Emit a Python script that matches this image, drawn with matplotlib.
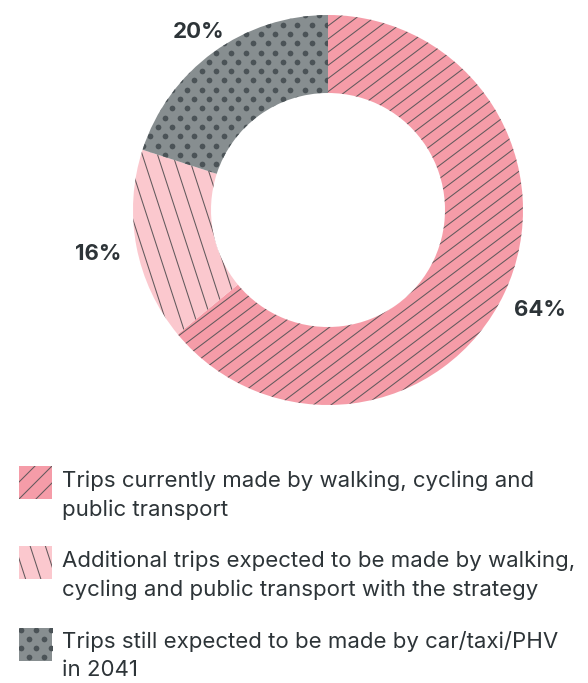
import matplotlib
matplotlib.use('Agg')
import matplotlib.pyplot as plt
import numpy as np
from matplotlib.collections import LineCollection
from matplotlib.patches import Rectangle

# share of trips in 2041
shares = [64, 16, 20]
share_labels = ['64%', '16%', '20%']
legend_lines = [
    ['Trips currently made by walking, cycling and', 'public transport'],
    ['Additional trips expected to be made by walking,', 'cycling and public transport with the strategy'],
    ['Trips still expected to be made by car/taxi/PHV', 'in 2041'],
]

colors = ['#f59ca8', '#fbc8ce', '#878e90']
line_col = '#62595c'
dot_col = '#4b5357'
text_col = '#2d3438'

plt.rcParams['font.family'] = ['Inter', 'DejaVu Sans']

W, H = 588, 683
fig = plt.figure(figsize=(W / 100, H / 100), dpi=100)

# donut axes: centre (328, 210) px, outer radius 195 px
cx, cy, R = 328, 210, 195
ax = fig.add_axes([(cx - R) / W, (H - cy - R) / H, 2 * R / W, 2 * R / H])
wedges, _ = ax.pie(shares, startangle=90, counterclock=False, colors=colors,
                   radius=1, wedgeprops=dict(width=0.4, linewidth=0))
ax.set_xlim(-1, 1)
ax.set_ylim(-1, 1)
ax.axis('off')


def hatch_lines(axis, patch, angle, spacing, x0, x1, y0, y1, lw=0.75):
    a = np.deg2rad(angle)
    d = np.array([np.cos(a), np.sin(a)])
    n = np.array([-np.sin(a), np.cos(a)])
    c = np.array([(x0 + x1) / 2, (y0 + y1) / 2])
    L = np.hypot(x1 - x0, y1 - y0)
    k = int(L / spacing) + 2
    segs = [[c + n * i * spacing - d * L, c + n * i * spacing + d * L] for i in range(-k, k + 1)]
    lc = LineCollection(segs, colors=line_col, linewidths=lw)
    axis.add_collection(lc)
    lc.set_clip_path(patch)


def hatch_dots(axis, patch, dx, dy, x0, x1, y0, y1, s):
    pts = []
    for j, y in enumerate(np.arange(y0, y1 + dy, dy)):
        off = dx / 2 if j % 2 else 0
        for x in np.arange(x0 + off, x1 + dx, dx):
            pts.append((x, y))
    pts = np.array(pts)
    sc = axis.scatter(pts[:, 0], pts[:, 1], s=s, color=dot_col, linewidths=0)
    sc.set_clip_path(patch)


px = 1 / R
hatch_lines(ax, wedges[0], 37, 10.5 * px, -1.1, 1.1, -1.1, 1.1)
hatch_lines(ax, wedges[1], -72, 14.5 * px, -1.1, 1.1, -1.1, 1.1)
hatch_dots(ax, wedges[2], 14.7 * px, 9.3 * px, -1.1, 1.1, -1.1, 1.1, 17)

# percentage labels outside the ring
label_r = [1.20, 1.20, 1.13]
start = 90
for w, lab, r, v in zip(wedges, share_labels, label_r, shares):
    mid = np.deg2rad(start - v * 3.6 / 2)
    start -= v * 3.6
    ax.text(r * np.cos(mid), r * np.sin(mid), lab, ha='center', va='center',
            fontsize=16, fontweight='bold', color=text_col)

# legend in pixel coordinates
lg = fig.add_axes([0, 0, 1, 1])
lg.set_xlim(0, W)
lg.set_ylim(H, 0)
lg.axis('off')
lg.patch.set_alpha(0)

sw_top = [466, 546, 628]
text_y = [(481, 510), (561, 590), (641, 670)]
for i, (top, lines, ty) in enumerate(zip(sw_top, legend_lines, text_y)):
    rect = Rectangle((19, top), 33, 33, facecolor=colors[i], linewidth=0)
    lg.add_patch(rect)
    if i == 0:
        hatch_lines(lg, rect, -45, 12, 19, 52, top, top + 33)
    elif i == 1:
        hatch_lines(lg, rect, 72, 14.5, 19, 52, top, top + 33)
    else:
        hatch_dots(lg, rect, 15, 9, 21, 52, top + 2, top + 33, 17)
    for t, yy in zip(lines, ty):
        lg.text(62, yy, t, ha='left', va='center', fontsize=16, color=text_col)

fig.savefig('out.png', dpi=100)
